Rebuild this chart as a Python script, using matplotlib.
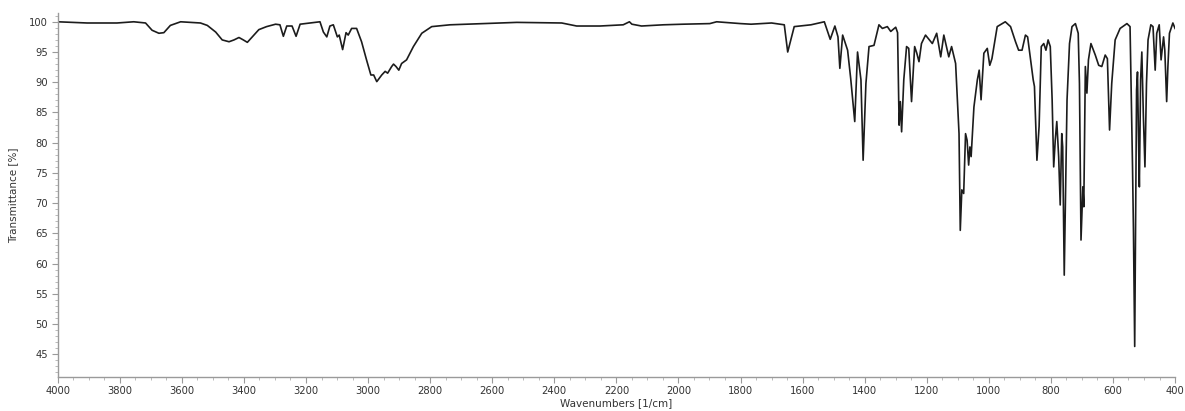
import numpy as np
import matplotlib
matplotlib.use("Agg")
import matplotlib.pyplot as plt
from matplotlib.ticker import MultipleLocator

# IR spectrum, wavenumber [1/cm] vs transmittance [%]
wavenumbers = [
    4000, 3905, 3809, 3755, 3717, 3696, 3674, 3658, 3637, 3604, 3540, 3518,
    3491, 3470, 3448, 3432, 3416, 3402, 3389, 3373, 3352, 3327, 3298, 3284,
    3273, 3262, 3245, 3232, 3219, 3155, 3144, 3133, 3123, 3112, 3099, 3093,
    3082, 3071, 3064, 3053, 3037, 3021, 3005, 2991, 2982, 2972, 2956, 2945,
    2937, 2924, 2918, 2910, 2901, 2892, 2876, 2854, 2827, 2795, 2736, 2629,
    2521, 2376, 2328, 2253, 2178, 2158, 2150, 2119, 2049, 1985, 1899, 1877,
    1800, 1766, 1700, 1659, 1648, 1627, 1573, 1530, 1511, 1496, 1486, 1480,
    1471, 1455, 1445, 1432, 1423, 1412, 1405, 1396, 1386, 1370, 1354, 1343,
    1327, 1316, 1300, 1294, 1289, 1285, 1281, 1274, 1265, 1258, 1249, 1239,
    1232, 1225, 1217, 1204, 1182, 1168, 1155, 1145, 1129, 1120, 1107, 1096,
    1092, 1087, 1081, 1075, 1070, 1065, 1061, 1057, 1048, 1037, 1031, 1025,
    1016, 1005, 997, 990, 973, 947, 930, 914, 904, 893, 882, 875, 866, 857,
    853, 845, 838, 831, 823, 816, 809, 802, 796, 791, 786, 781, 775, 770,
    765, 762, 757, 753, 748, 740, 732, 721, 712, 708, 703, 697, 694, 689,
    684, 679, 671, 657, 646, 636, 625, 618, 611, 604, 593, 577, 555, 545,
    537, 534, 530, 527, 524, 521, 518, 515, 511, 507, 502, 497, 492, 487,
    478, 471, 464, 459, 451, 445, 437, 433, 427, 423, 418, 407, 400,
]
transmittance = [
    100.0, 99.8, 99.8, 100.0, 99.8, 98.6, 98.1, 98.2, 99.4, 100.0, 99.8, 99.4,
    98.3, 97.0, 96.7, 97.0, 97.4, 97.0, 96.6, 97.5, 98.7, 99.2, 99.6, 99.5,
    97.6, 99.3, 99.3, 97.6, 99.6, 100.0, 98.3, 97.5, 99.3, 99.5, 97.5, 97.8,
    95.4, 98.2, 97.8, 98.9, 98.9, 96.7, 93.7, 91.2, 91.2, 90.1, 91.2, 91.8,
    91.5, 92.6, 93.0, 92.6, 92.0, 93.1, 93.7, 95.9, 98.1, 99.2, 99.5, 99.7,
    99.9, 99.8, 99.3, 99.3, 99.5, 100.0, 99.6, 99.3, 99.5, 99.6, 99.7, 100.0,
    99.7, 99.6, 99.8, 99.5, 95.0, 99.2, 99.5, 100.0, 97.1, 99.3, 97.5, 92.3,
    97.8, 95.3, 90.6, 83.5, 95.0, 90.4, 77.1, 89.8, 95.9, 96.1, 99.5, 98.9,
    99.2, 98.4, 99.1, 98.2, 82.9, 86.8, 81.8, 90.4, 95.9, 95.6, 86.8, 95.9,
    94.8, 93.4, 96.4, 97.8, 96.4, 98.1, 94.2, 97.8, 94.2, 95.9, 93.1, 81.5,
    65.5, 72.2, 71.6, 81.5, 80.4, 76.3, 79.3, 77.7, 85.9, 90.4, 92.0, 87.1,
    94.8, 95.6, 92.8, 93.9, 99.2, 100.0, 99.2, 96.7, 95.3, 95.3, 97.8, 97.5,
    93.9, 90.4, 89.3, 77.1, 82.7, 95.9, 96.4, 95.3, 97.0, 95.9, 87.1, 76.0,
    80.4, 83.5, 77.7, 69.7, 81.5, 79.3, 58.1, 70.5, 87.1, 96.4, 99.2, 99.7,
    98.1, 89.8, 63.9, 72.7, 69.4, 92.6, 88.2, 93.7, 96.4, 94.5, 92.8, 92.6,
    94.5, 93.9, 82.1, 89.8, 97.0, 98.9, 99.7, 99.2, 76.0, 65.5, 46.3, 67.8,
    88.7, 91.7, 81.5, 72.7, 90.4, 95.0, 84.3, 76.0, 89.8, 97.0, 99.5, 99.2,
    92.0, 98.1, 99.5, 93.7, 97.5, 95.3, 86.8, 92.6, 98.1, 99.8, 98.9,
]

fig = plt.figure(figsize=(11.85, 4.11), dpi=100)
ax = fig.add_axes([0.0487, 0.0835, 0.9429, 0.8841])

ax.plot(wavenumbers, transmittance, color="#1c1c1c", lw=1.2)

ax.set_xlim(4000, 400)
ax.set_ylim(41.3, 101.4)

ax.xaxis.set_major_locator(MultipleLocator(200))
ax.xaxis.set_minor_locator(MultipleLocator(50))
ax.yaxis.set_major_locator(MultipleLocator(5))
ax.yaxis.set_minor_locator(MultipleLocator(1))

for side in ("top", "right"):
    ax.spines[side].set_visible(False)
for side in ("left", "bottom"):
    ax.spines[side].set_color("#9a9a9a")
    ax.spines[side].set_linewidth(1.0)

ax.tick_params(which="major", length=4, width=0.8, color="#9a9a9a",
               labelsize=7.2, labelcolor="#333333", pad=3)
ax.tick_params(which="minor", length=2, width=0.6, color="#b0b0b0")

ax.set_xlabel("Wavenumbers [1/cm]", fontsize=7.5, color="#333333", labelpad=1)
ax.set_ylabel("Transmittance [%]", fontsize=7.5, color="#333333", labelpad=8)

fig.savefig("out.png", dpi=100)
